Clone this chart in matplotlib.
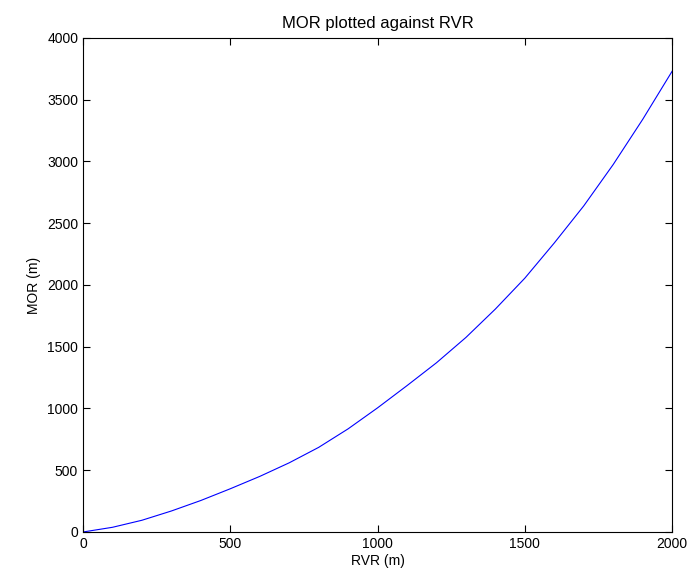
import matplotlib
matplotlib.use("Agg")
import matplotlib.pyplot as plt

# values
rvr = [0, 100, 200, 300, 400, 500, 600, 700, 800, 900, 1000,
       1100, 1200, 1300, 1400, 1500, 1600, 1700, 1800, 1900, 2000]
mor = [0, 38, 95, 170, 255, 350, 450, 560, 685, 835, 1005,
       1185, 1370, 1575, 1805, 2055, 2340, 2640, 2975, 3340, 3730]

plt.rcParams["font.family"] = ["Liberation Sans", "DejaVu Sans"]
plt.rcParams["font.size"] = 10

fig = plt.figure(figsize=(6.89, 5.83), dpi=100)
ax = fig.add_axes([0.1205, 0.0875, 0.855, 0.8475])
ax.plot(rvr, mor, color="blue", linewidth=0.8)

ax.set_xlim(0, 2000)
ax.set_ylim(0, 4000)
ax.set_xticks(range(0, 2001, 500))
ax.set_yticks(range(0, 4001, 500))
ax.tick_params(direction="in", top=True, right=True, length=5, width=0.8)
for s in ax.spines.values():
    s.set_linewidth(0.8)

ax.set_xlabel("RVR (m)", labelpad=2)
ax.set_ylabel("MOR (m)", labelpad=4)
ax.set_title("MOR plotted against RVR", pad=7)

fig.savefig("out.png", dpi=100)
